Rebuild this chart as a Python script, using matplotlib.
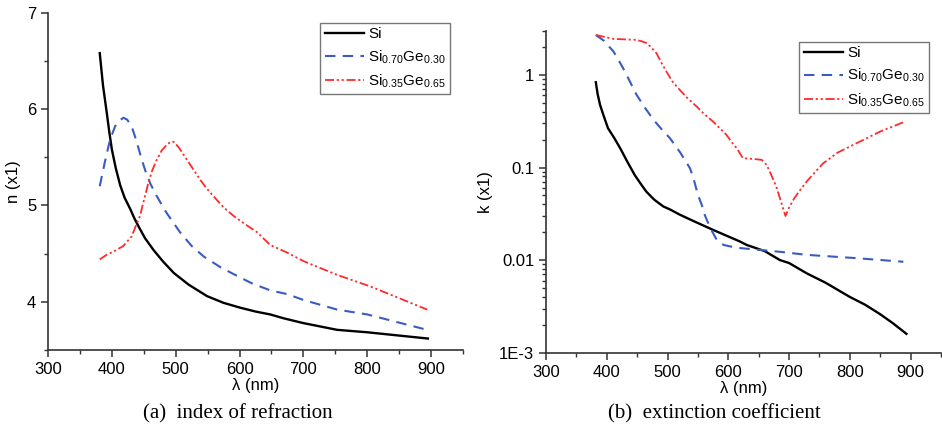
import numpy as np
import matplotlib
matplotlib.use("Agg")
import matplotlib.pyplot as plt
from matplotlib.ticker import MultipleLocator, LogLocator, FixedLocator, FixedFormatter, NullFormatter

plt.rcParams["font.family"] = ["Liberation Sans", "DejaVu Sans"]
plt.rcParams["mathtext.fontset"] = "custom"
plt.rcParams["mathtext.rm"] = "Liberation Sans"
plt.rcParams["mathtext.it"] = "Liberation Sans"

# (a) index of refraction
si_n_wl = [381, 386, 392, 396, 400, 406, 413, 420, 429, 435, 442, 452, 465, 480, 497,
           520, 549, 575, 601, 625, 648, 669, 700, 753, 800, 895]
si_n = [6.58, 6.25, 5.96, 5.76, 5.58, 5.39, 5.21, 5.08, 4.96, 4.87, 4.78, 4.66, 4.54, 4.42, 4.30,
        4.18, 4.06, 3.99, 3.94, 3.90, 3.87, 3.83, 3.78, 3.71, 3.685, 3.62]

sige30_n_wl = [381, 389, 397, 405, 410, 418, 424, 431, 438, 447, 453, 460, 470, 486, 507,
               525, 544, 570, 596, 620, 648, 675, 700, 753, 800, 894]
sige30_n = [5.20, 5.45, 5.68, 5.82, 5.87, 5.91, 5.89, 5.82, 5.68, 5.47, 5.35, 5.23, 5.10, 4.92, 4.72,
            4.58, 4.47, 4.36, 4.27, 4.19, 4.12, 4.08, 4.02, 3.92, 3.87, 3.71]

sige65_n_wl = [381, 392, 402, 410, 418, 431, 437, 444, 450, 457, 463, 470, 478, 486, 492, 497,
               505, 518, 528, 538, 548, 560, 575, 591, 610, 628, 648, 675, 701, 753, 805, 894]
sige65_n = [4.44, 4.49, 4.52, 4.55, 4.58, 4.68, 4.78, 4.89, 5.05, 5.23, 5.36, 5.47, 5.57, 5.63, 5.66, 5.66,
            5.60, 5.47, 5.37, 5.27, 5.18, 5.09, 4.98, 4.89, 4.80, 4.72, 4.59, 4.51, 4.42, 4.28, 4.16, 3.92]

# (b) extinction coefficient
si_k_wl = [382, 385, 389, 395, 402, 412, 422, 434, 446, 455, 465, 478, 493, 505, 520, 545,
           575, 600, 619, 630, 660, 685, 700, 729, 760, 800, 825, 850, 870, 893]
si_k = [0.834, 0.62, 0.474, 0.36, 0.266, 0.21, 0.162, 0.115, 0.083, 0.068, 0.055, 0.045, 0.038, 0.035,
        0.031, 0.026, 0.0212, 0.018, 0.0159, 0.0146, 0.0125, 0.0100, 0.0093, 0.0072, 0.0057, 0.0040,
        0.0033, 0.0026, 0.0021, 0.0016]

sige30_k_wl = [382, 395, 411, 418, 427, 438, 449, 462, 477, 490, 504, 520, 528, 537, 543, 550,
               556, 561, 567, 572, 580, 592, 600, 614, 619, 685, 729, 811, 888]
sige30_k = [2.7, 2.35, 1.79, 1.5, 1.18, 0.85, 0.61, 0.45, 0.327, 0.26, 0.207, 0.148, 0.122, 0.098,
            0.075, 0.0506, 0.04, 0.031, 0.025, 0.0212, 0.017, 0.0146, 0.0142, 0.0136, 0.0135, 0.0123,
            0.0114, 0.0105, 0.0096]

sige65_k_wl = [382, 411, 430, 449, 458, 466, 474, 482, 490, 498, 508, 520, 533, 548, 560, 575,
               586, 597, 605, 614, 624, 640, 655, 663, 670, 679, 685, 689, 694, 700, 708, 718,
               730, 756, 780, 811, 850, 889]
sige65_k = [2.7, 2.45, 2.42, 2.39, 2.3, 2.2, 1.95, 1.71, 1.35, 1.09, 0.85, 0.69, 0.56, 0.455, 0.38,
            0.313, 0.265, 0.225, 0.19, 0.161, 0.126, 0.124, 0.121, 0.107, 0.085, 0.062, 0.0465, 0.038,
            0.030, 0.037, 0.046, 0.057, 0.072, 0.111, 0.145, 0.183, 0.245, 0.31]

labels = ["Si", r"Si$_{0.70}$Ge$_{0.30}$", r"Si$_{0.35}$Ge$_{0.65}$"]
colors = ["black", "#3a5cc0", "#ff2a2a"]

fig = plt.figure(figsize=(9.42, 4.36), dpi=100)
ax1 = fig.add_axes([0.051, 0.197, 0.4405, 0.774])
ax2 = fig.add_axes([0.5796, 0.191, 0.4194, 0.7385])


def style_lines(ax, xs, ys):
    ax.plot(xs[0], ys[0], color=colors[0], lw=1.7, label=labels[0])
    ax.plot(xs[1], ys[1], color=colors[1], lw=1.5, dashes=(5, 3.5), label=labels[1])
    ax.plot(xs[2], ys[2], color=colors[2], lw=1.3, dashes=(5, 1.5, 1.2, 1.5, 1.2, 1.5), label=labels[2])


def style_axes(ax):
    for s in ["top", "right"]:
        ax.spines[s].set_visible(False)
    for s in ["left", "bottom"]:
        ax.spines[s].set_linewidth(1.2)
        ax.spines[s].set_color("#333333")
    ax.tick_params(which="major", direction="out", length=5, width=1.1, labelsize=12, color="#333333")
    ax.tick_params(which="minor", direction="out", length=3, width=1.0, color="#333333")
    ax.set_xlim(300, 950)
    ax.xaxis.set_major_locator(FixedLocator([300, 400, 500, 600, 700, 800, 900]))
    ax.xaxis.set_minor_locator(MultipleLocator(50))
    ax.set_xlabel("λ (nm)", fontsize=12, labelpad=1)
    leg = ax.legend(loc="upper right", fontsize=11, frameon=True, fancybox=False,
                    handlelength=2.6, handletextpad=0.25, labelspacing=0.45, borderpad=0.3)
    leg.get_frame().set_edgecolor("#555555")
    leg.get_frame().set_linewidth(1.0)


style_lines(ax1, [si_n_wl, sige30_n_wl, sige65_n_wl], [si_n, sige30_n, sige65_n])
ax1.set_ylim(3.5, 7)
ax1.yaxis.set_major_locator(FixedLocator([4, 5, 6, 7]))
ax1.yaxis.set_minor_locator(MultipleLocator(0.5))
ax1.set_ylabel("n (x1)", fontsize=12, labelpad=4)
style_axes(ax1)
ax1.legend_.set_bbox_to_anchor((0.988, 0.993))

style_lines(ax2, [si_k_wl, sige30_k_wl, sige65_k_wl], [si_k, sige30_k, sige65_k])
ax2.set_yscale("log")
ax2.set_ylim(1e-3, 3)
ax2.yaxis.set_major_locator(FixedLocator([1e-3, 1e-2, 1e-1, 1]))
ax2.yaxis.set_major_formatter(FixedFormatter(["1E-3", "0.01", "0.1", "1"]))
ax2.yaxis.set_minor_locator(LogLocator(base=10, subs=np.arange(2, 10)))
ax2.yaxis.set_minor_formatter(NullFormatter())
ax2.set_ylabel("k (x1)", fontsize=12, labelpad=4)
style_axes(ax2)
ax2.legend_.set_bbox_to_anchor((0.99, 0.99))

fig.text(0.252, 0.052, "(a)  index of refraction", ha="center", va="center",
         fontsize=15, family="Liberation Serif")
fig.text(0.758, 0.052, "(b)  extinction coefficient", ha="center", va="center",
         fontsize=15, family="Liberation Serif")

fig.savefig("out.png", dpi=100)
